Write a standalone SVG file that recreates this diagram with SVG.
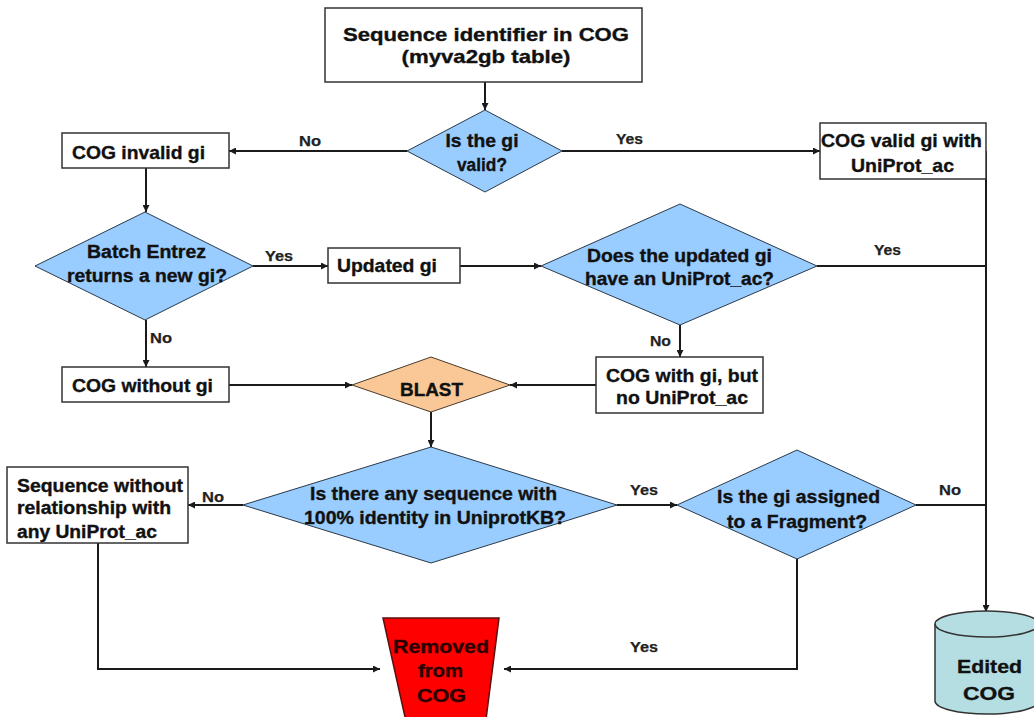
<svg xmlns="http://www.w3.org/2000/svg" width="1034" height="717" viewBox="0 0 1034 717">
<style>
  .box{fill:#fff;stroke:#333;stroke-width:1.5}
  .dia{fill:#99CCFF;stroke:#2a3a4a;stroke-width:1}
  .blast{fill:#F9C896;stroke:#4a3a2a;stroke-width:1}
  .t{font-family:"Liberation Sans",Arial,sans-serif;font-weight:bold;font-size:18px;fill:#111;stroke:#111;stroke-width:0.35}
  .tb{font-size:19px}
  .bx{font-size:19px}
  .lab{font-family:"Liberation Sans",Arial,sans-serif;font-weight:bold;font-size:15.5px;fill:#222;stroke:#222;stroke-width:0.25}
  .c{fill:none;stroke:#1a1a1a;stroke-width:2}
  .m{text-anchor:middle}
</style>
<defs>
  <marker id="ah" viewBox="0 0 10 10" refX="10" refY="5" markerWidth="9" markerHeight="7" markerUnits="userSpaceOnUse" orient="auto">
    <path d="M0,0 L10,5 L0,10 z" fill="#1a1a1a"/>
  </marker>
</defs>
<rect width="1034" height="717" fill="#fff"/>

<g id="connectors">
  <path class="c" d="M485,82 V110" marker-end="url(#ah)"/>
  <path class="c" d="M407,151 H229" marker-end="url(#ah)"/>
  <path class="c" d="M562,151 H820" marker-end="url(#ah)"/>
  <path class="c" d="M146,168 V212" marker-end="url(#ah)"/>
  <path class="c" d="M253,266 H328" marker-end="url(#ah)"/>
  <path class="c" d="M460,266 H541" marker-end="url(#ah)"/>
  <path class="c" d="M817,266 H986"/>
  <path class="c" d="M986,151 V612" marker-end="url(#ah)"/>
  <path class="c" d="M680,325 V357" marker-end="url(#ah)"/>
  <path class="c" d="M596,385 H510" marker-end="url(#ah)"/>
  <path class="c" d="M146,320 V367" marker-end="url(#ah)"/>
  <path class="c" d="M229,385 H352" marker-end="url(#ah)"/>
  <path class="c" d="M431,412 V447" marker-end="url(#ah)"/>
  <path class="c" d="M243,505 H188" marker-end="url(#ah)"/>
  <path class="c" d="M617,505 H677" marker-end="url(#ah)"/>
  <path class="c" d="M916,505 H986"/>
  <path class="c" d="M797,559 V669 H504" marker-end="url(#ah)"/>
  <path class="c" d="M98,543 V669 H380" marker-end="url(#ah)"/>
  <text class="lab" x="310" y="146" text-anchor="middle" textLength="22" lengthAdjust="spacingAndGlyphs">No</text>
  <text class="lab" x="629.5" y="144" text-anchor="middle" textLength="27" lengthAdjust="spacingAndGlyphs">Yes</text>
  <text class="lab" x="279" y="261" text-anchor="middle" textLength="28" lengthAdjust="spacingAndGlyphs">Yes</text>
  <text class="lab" x="887.5" y="255" text-anchor="middle" textLength="27" lengthAdjust="spacingAndGlyphs">Yes</text>
  <text class="lab" x="161" y="343" text-anchor="middle" textLength="22" lengthAdjust="spacingAndGlyphs">No</text>
  <text class="lab" x="660.5" y="346" text-anchor="middle" textLength="21" lengthAdjust="spacingAndGlyphs">No</text>
  <text class="lab" x="213" y="502" text-anchor="middle" textLength="22" lengthAdjust="spacingAndGlyphs">No</text>
  <text class="lab" x="644" y="495" text-anchor="middle" textLength="28" lengthAdjust="spacingAndGlyphs">Yes</text>
  <text class="lab" x="950" y="495" text-anchor="middle" textLength="22" lengthAdjust="spacingAndGlyphs">No</text>
  <text class="lab" x="644" y="652" text-anchor="middle" textLength="28" lengthAdjust="spacingAndGlyphs">Yes</text>
</g>

<g id="start">
  <rect class="box" x="325" y="8" width="317" height="74"/>
  <text class="t tb m" x="486" y="41" textLength="286" lengthAdjust="spacingAndGlyphs">Sequence identifier in COG</text>
  <text class="t tb m" x="486" y="63" textLength="169" lengthAdjust="spacingAndGlyphs">(myva2gb table)</text>
</g>

<g id="gi-valid">
  <polygon class="dia" points="485,110 562,151 485,192 407,151"/>
  <text class="t m" x="482" y="147" textLength="73" lengthAdjust="spacingAndGlyphs">Is the gi</text>
  <text class="t m" x="482" y="171" textLength="50" lengthAdjust="spacingAndGlyphs">valid?</text>
</g>

<g id="cog-invalid">
  <rect class="box" x="62" y="133" width="167" height="35"/>
  <text class="t bx" x="72" y="159" textLength="133" lengthAdjust="spacingAndGlyphs">COG invalid gi</text>
</g>

<g id="cog-valid">
  <rect class="box" x="820" y="123" width="166" height="56"/>
  <text class="t bx m" x="901.5" y="147" textLength="161" lengthAdjust="spacingAndGlyphs">COG valid gi with</text>
  <text class="t bx m" x="902.5" y="172" textLength="103" lengthAdjust="spacingAndGlyphs">UniProt_ac</text>
</g>

<g id="batch-entrez">
  <polygon class="dia" points="145,212 253,266 145,320 35,266"/>
  <text class="t m" x="146.5" y="258" textLength="119" lengthAdjust="spacingAndGlyphs">Batch Entrez</text>
  <text class="t m" x="147" y="282" textLength="160" lengthAdjust="spacingAndGlyphs">returns a new gi?</text>
</g>

<g id="updated-gi">
  <rect class="box" x="328" y="248" width="132" height="35"/>
  <text class="t bx" x="337" y="272" textLength="100" lengthAdjust="spacingAndGlyphs">Updated gi</text>
</g>

<g id="has-uniprot">
  <polygon class="dia" points="680,204 817,266 680,325 541,266"/>
  <text class="t m" x="679.5" y="262" textLength="185" lengthAdjust="spacingAndGlyphs">Does the updated gi</text>
  <text class="t m" x="679.5" y="285" textLength="189" lengthAdjust="spacingAndGlyphs">have an UniProt_ac?</text>
</g>

<g id="cog-with-gi">
  <rect class="box" x="596" y="357" width="167" height="56"/>
  <text class="t bx m" x="682" y="382" textLength="152" lengthAdjust="spacingAndGlyphs">COG with gi, but</text>
  <text class="t bx m" x="682" y="404" textLength="132" lengthAdjust="spacingAndGlyphs">no UniProt_ac</text>
</g>

<g id="cog-without-gi">
  <rect class="box" x="62" y="367" width="167" height="35"/>
  <text class="t bx" x="72" y="392" textLength="141" lengthAdjust="spacingAndGlyphs">COG without gi</text>
</g>

<g id="blast">
  <polygon class="blast" points="431,357 510,385 431,412 352,385"/>
  <text class="t m" x="431.5" y="396" textLength="63" lengthAdjust="spacingAndGlyphs">BLAST</text>
</g>

<g id="identity">
  <polygon class="dia" points="431,447 617,505 431,563 243,505"/>
  <text class="t m" x="433.5" y="500" textLength="247" lengthAdjust="spacingAndGlyphs">Is there any sequence with</text>
  <text class="t m" x="435" y="524" textLength="262" lengthAdjust="spacingAndGlyphs">100% identity in UniprotKB?</text>
</g>

<g id="no-relationship">
  <rect class="box" x="7" y="467" width="181" height="76"/>
  <text class="t" x="17" y="492" textLength="166" lengthAdjust="spacingAndGlyphs">Sequence without</text>
  <text class="t" x="17" y="514" textLength="154" lengthAdjust="spacingAndGlyphs">relationship with</text>
  <text class="t" x="17" y="538" textLength="140" lengthAdjust="spacingAndGlyphs">any UniProt_ac</text>
</g>

<g id="fragment">
  <polygon class="dia" points="797,450 916,505 797,559 677,505"/>
  <text class="t m" x="798.5" y="503" textLength="163" lengthAdjust="spacingAndGlyphs">Is the gi assigned</text>
  <text class="t m" x="797" y="528" textLength="140" lengthAdjust="spacingAndGlyphs">to a Fragment?</text>
</g>

<g id="removed">
  <polygon points="383,618 499,618 484,735 409,735" fill="#FF0000" stroke="#5a1010" stroke-width="1.5"/>
  <text class="t bx m" x="441" y="653" textLength="96" lengthAdjust="spacingAndGlyphs" style="fill:#2a0000;stroke:#2a0000">Removed</text>
  <text class="t bx m" x="440.5" y="677" textLength="45" lengthAdjust="spacingAndGlyphs" style="fill:#2a0000;stroke:#2a0000">from</text>
  <text class="t bx m" x="441.5" y="702" textLength="49" lengthAdjust="spacingAndGlyphs" style="fill:#2a0000;stroke:#2a0000">COG</text>
</g>

<g id="edited-cog">
  <path d="M935,624 V701 A52,13 0 0 0 1039,701 V624" fill="#B5DEE2" stroke="#333" stroke-width="1.5"/>
  <ellipse cx="987" cy="624" rx="52" ry="13" fill="#B5DEE2" stroke="#333" stroke-width="1.5"/>
  <text class="t bx m" x="989.5" y="673" textLength="65" lengthAdjust="spacingAndGlyphs">Edited</text>
  <text class="t bx m" x="989" y="700" textLength="52" lengthAdjust="spacingAndGlyphs">COG</text>
</g>
</svg>
